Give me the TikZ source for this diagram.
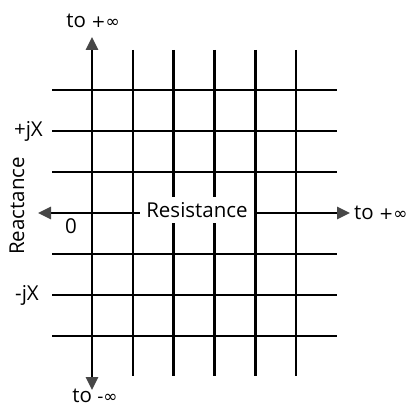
\documentclass[tikz,border=0pt]{standalone}
\usepackage{fontspec}
\setmainfont{Open Sans}
\newfontfamily\symfont{DejaVu Sans}
\usetikzlibrary{arrows.meta}
\newcommand{\sym}[1]{{\symfont\fontsize{17}{19}\selectfont #1}}

\begin{document}
\begin{tikzpicture}[
  x=1pt, y=-1pt,
  font=\fontsize{20.5}{24}\selectfont,
  grid/.style={line width=2.6pt},
  arr/.style={line width=2.6pt, -{Triangle[length=13pt, width=12pt, color=black!72]}},
  lbl/.style={inner sep=1pt}
]
\useasboundingbox (0,0) rectangle (409,409);
% grid lines
\foreach \i in {1,...,5}
  \draw[grid] (92+40.8*\i,50) -- (92+40.8*\i,376);
\foreach \j in {0,1,2,4,5,6}
  \draw[grid] (52,90+41*\j) -- (337,90+41*\j);
% axes
\coordinate (o) at (92,213);
\coordinate (top) at (92,37);
\coordinate (bot) at (92,390);
\coordinate (west) at (38,213);
\coordinate (east) at (350,213);
\draw[arr] (o) -- (top);
\draw[arr] (o) -- (bot);
\draw[arr] (o) -- (west);
\draw[arr] (o) -- (east);
% labels
\node[lbl] (pinf) at (93,21) {to \sym{+∞}};
\node[lbl, anchor=west] (rinf) at (353,213) {to \sym{+∞}};
\node[lbl] (minf) at (95,396) {to \sym{-∞}};
\node[lbl, anchor=east] (pjx) at (44,131) {+jX};
\node[lbl, anchor=east] (mjx) at (40,295) {-jX};
\node[lbl] (zero) at (71,226) {0};
\node[lbl, rotate=90] (react) at (17,206) {Reactance};
\node[fill=white, inner xsep=6pt, inner ysep=5pt] (resist) at (197,210) {Resistance};
\end{tikzpicture}
\end{document}
